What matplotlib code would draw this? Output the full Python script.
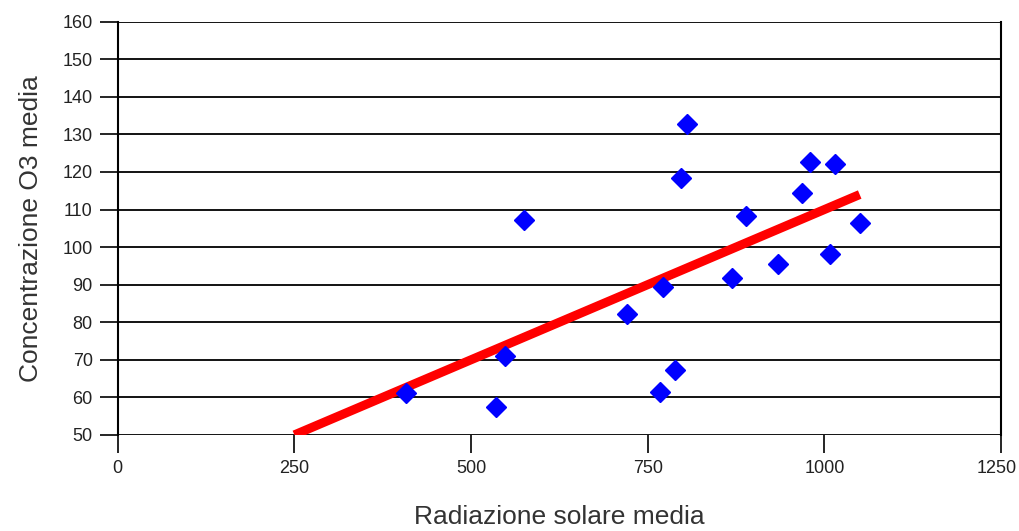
import matplotlib.pyplot as plt
import matplotlib.transforms as mtransforms

plt.rcParams['font.family'] = ['Liberation Sans', 'DejaVu Sans']

# Radiazione solare media vs concentrazione O3 media
radiazione = [408, 536, 548, 575, 721, 767, 772, 788, 797, 806,
              869, 889, 934, 968, 979, 1008, 1015, 1050]
ozono = [61.1, 57.5, 71.1, 107.2, 82.2, 61.3, 89.3, 67.4, 118.5, 132.8,
         91.8, 108.3, 95.4, 114.5, 122.7, 98.1, 122.0, 106.3]

# linea di tendenza (estremi)
trend_x = [250, 1050]
trend_y = [50, 114]

x_ticks = [0, 250, 500, 750, 1000, 1250]
y_ticks = list(range(50, 161, 10))

fig = plt.figure(figsize=(10.2, 5.31), dpi=100)
ax = fig.add_axes([0.1154, 0.181, 0.866, 0.778])

for yv in y_ticks:
    ax.axhline(yv, color='black', lw=1.3, zorder=1)

ax.plot(trend_x, trend_y, color='#ff0000', lw=6.5, solid_capstyle='butt', zorder=2)
ax.plot(radiazione, ozono, 'D', color='#0000ff', ms=10, mec='#0000ff', zorder=3)

ax.set_xlim(0, 1250)
ax.set_ylim(50, 160)
ax.set_xticks(x_ticks)
ax.set_yticks(y_ticks)
ax.tick_params(direction='out', length=13, width=1.2, labelsize=13,
               colors='black', labelcolor='#222222')
ax.tick_params(axis='x', pad=5)
ax.tick_params(axis='y', pad=5)
for s in ax.spines.values():
    s.set_linewidth(1.5)
ax.spines['bottom'].set_visible(False)
ax.spines['top'].set_visible(False)

# l'ultima etichetta sta al bordo: spostata un poco a sinistra
last = ax.get_xticklabels()[-1]
last.set_transform(last.get_transform() +
                   mtransforms.ScaledTranslation(-4 / 100, 0, fig.dpi_scale_trans))

ax.set_xlabel('Radiazione solare media', fontsize=19, color='#333333', labelpad=20)
ax.set_ylabel('Concentrazione O3 media', fontsize=19, color='#333333', labelpad=14)

fig.savefig('out.png', dpi=100)
